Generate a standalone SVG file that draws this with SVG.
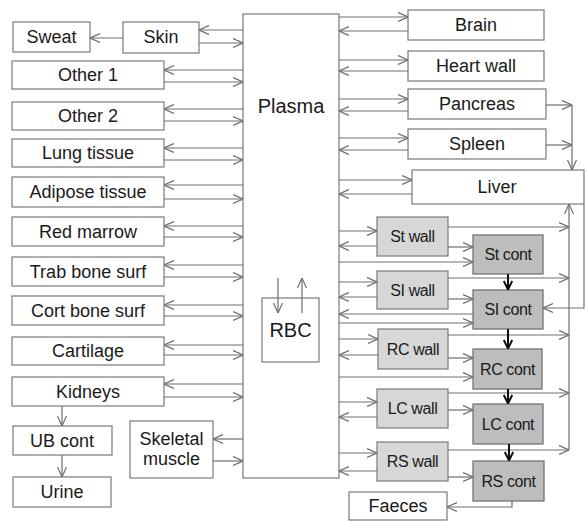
<svg xmlns="http://www.w3.org/2000/svg" width="587" height="522" viewBox="0 0 587 522">
<style>
.b{fill:#fff;stroke:#7a7a7a;stroke-width:1.2}
.w{fill:#d7d7d7;stroke:#7a7a7a;stroke-width:1.2}
.k{fill:#bdbdbd;stroke:#6a6a6a;stroke-width:1.2}
text{font-family:"Liberation Sans",Arial,sans-serif;font-size:18px;fill:#1a1a1a;text-anchor:middle}
.s{font-size:16px;letter-spacing:-0.4px}
.c path{fill:none;stroke:#6e6e6e;stroke-width:1.2}
.c .a{marker-end:url(#ah)}
.c .t{stroke:#111;stroke-width:2;marker-end:url(#ak)}
</style>
<defs>
<marker id="ah" viewBox="0 0 10 10" refX="10" refY="5" markerWidth="10" markerHeight="10" markerUnits="userSpaceOnUse" orient="auto"><path d="M0,0.5 L10,5 L0,9.5" fill="none" stroke="#6e6e6e" stroke-width="1.2"/></marker>
<marker id="ak" viewBox="0 0 10 10" refX="10" refY="5" markerWidth="10" markerHeight="10" markerUnits="userSpaceOnUse" orient="auto"><path d="M1,0.8 L9.5,5 L1,9.2" fill="none" stroke="#111" stroke-width="2"/></marker>
</defs>
<rect width="587" height="522" fill="#fff"/>

<g id="plasma"><rect class="b" x="243" y="14" width="96" height="464"/><text x="291" y="113" style="font-size:20px">Plasma</text></g>
<g id="rbc"><rect class="b" x="262" y="298" width="57" height="64"/><text x="290.5" y="337" style="font-size:20px">RBC</text></g>

<g id="sweat"><rect class="b" x="13" y="22" width="77" height="30"/><text x="51.5" y="43">Sweat</text></g>
<g id="skin"><rect class="b" x="123" y="22" width="76" height="31"/><text x="161" y="43">Skin</text></g>
<g id="other1"><rect class="b" x="12" y="61" width="152" height="28"/><text x="88" y="81">Other 1</text></g>
<g id="other2"><rect class="b" x="12" y="102" width="152" height="28"/><text x="88" y="122">Other 2</text></g>
<g id="lung"><rect class="b" x="12" y="139" width="152" height="28"/><text x="88" y="159">Lung tissue</text></g>
<g id="adipose"><rect class="b" x="12" y="177" width="152" height="30"/><text x="88" y="198">Adipose tissue</text></g>
<g id="redmarrow"><rect class="b" x="12" y="217" width="152" height="29"/><text x="88" y="238">Red marrow</text></g>
<g id="trab"><rect class="b" x="12" y="257" width="152" height="29"/><text x="88" y="278">Trab bone surf</text></g>
<g id="cort"><rect class="b" x="12" y="296" width="152" height="29"/><text x="88" y="317">Cort bone surf</text></g>
<g id="cartilage"><rect class="b" x="12" y="337" width="152" height="28"/><text x="88" y="357">Cartilage</text></g>
<g id="kidneys"><rect class="b" x="12" y="377" width="152" height="29"/><text x="88" y="398">Kidneys</text></g>
<g id="ubcont"><rect class="b" x="13" y="426" width="99" height="29"/><text x="62" y="447">UB cont</text></g>
<g id="urine"><rect class="b" x="13" y="477" width="98" height="30"/><text x="62" y="498">Urine</text></g>
<g id="skeletal"><rect class="b" x="130" y="421" width="83" height="57"/><text x="171.5" y="445">Skeletal</text><text x="171.5" y="465">muscle</text></g>

<g id="brain"><rect class="b" x="408" y="10" width="136" height="30"/><text x="476" y="31">Brain</text></g>
<g id="heart"><rect class="b" x="408" y="51" width="136" height="30"/><text x="476" y="72">Heart wall</text></g>
<g id="pancreas"><rect class="b" x="408" y="89" width="138" height="30"/><text x="477" y="110">Pancreas</text></g>
<g id="spleen"><rect class="b" x="408" y="129" width="138" height="30"/><text x="477" y="150">Spleen</text></g>
<g id="liver"><rect class="b" x="412" y="170" width="172" height="34"/><text x="497" y="193">Liver</text></g>

<g id="stwall"><rect class="w" x="377" y="217" width="71" height="39"/><text class="s" x="412.5" y="242">St wall</text></g>
<g id="siwall"><rect class="w" x="377" y="271" width="71" height="38"/><text class="s" x="412.5" y="296">SI wall</text></g>
<g id="rcwall"><rect class="w" x="378" y="329" width="70" height="40"/><text class="s" x="413" y="355">RC wall</text></g>
<g id="lcwall"><rect class="w" x="377" y="389" width="71" height="39"/><text class="s" x="412.5" y="414">LC wall</text></g>
<g id="rswall"><rect class="w" x="377" y="442" width="71" height="39"/><text class="s" x="412.5" y="467">RS wall</text></g>
<g id="stcont"><rect class="k" x="473" y="235" width="70" height="39"/><text class="s" x="508" y="260">St cont</text></g>
<g id="sicont"><rect class="k" x="473" y="290" width="70" height="39"/><text class="s" x="508" y="315">SI cont</text></g>
<g id="rccont"><rect class="k" x="473" y="349" width="69" height="40"/><text class="s" x="507.5" y="375">RC cont</text></g>
<g id="lccont"><rect class="k" x="473" y="404" width="70" height="40"/><text class="s" x="508" y="430">LC cont</text></g>
<g id="rscont"><rect class="k" x="473" y="461" width="71" height="40"/><text class="s" x="508.5" y="487">RS cont</text></g>
<g id="faeces"><rect class="b" x="349" y="492" width="98" height="28"/><text x="398" y="512">Faeces</text></g>

<g id="connectors" class="c">
<path class="a" d="M123,38H90"/>
<path class="a" d="M243,30H199"/><path class="a" d="M199,43H243"/>
<path class="a" d="M243,70H164"/><path class="a" d="M164,82H243"/>
<path class="a" d="M243,109H164"/><path class="a" d="M164,121H243"/>
<path class="a" d="M243,148H164"/><path class="a" d="M164,160H243"/>
<path class="a" d="M243,185H164"/><path class="a" d="M164,199H243"/>
<path class="a" d="M243,226H164"/><path class="a" d="M164,237H243"/>
<path class="a" d="M243,265H164"/><path class="a" d="M164,277H243"/>
<path class="a" d="M243,305H164"/><path class="a" d="M164,316H243"/>
<path class="a" d="M243,345H164"/><path class="a" d="M164,355H243"/>
<path class="a" d="M243,384H164"/><path class="a" d="M164,397H243"/>
<path class="a" d="M62,406V426"/><path class="a" d="M62,455V477"/>
<path class="a" d="M243,439H213"/><path class="a" d="M213,461H243"/>
<path class="a" d="M278,278V313"/><path class="a" d="M302,313V278"/>

<path class="a" d="M339,17H408"/><path class="a" d="M408,31H339"/>
<path class="a" d="M339,60H408"/><path class="a" d="M408,71H339"/>
<path class="a" d="M339,99H408"/><path class="a" d="M408,111H339"/>
<path class="a" d="M339,138H408"/><path class="a" d="M408,150H339"/>
<path class="a" d="M339,180H412"/><path class="a" d="M412,194H339"/>
<path class="a" d="M546,105H572"/><path class="a" d="M546,145H572"/>
<path class="a" d="M572,105V170"/>

<path class="a" d="M339,231H377"/><path class="a" d="M377,246H339"/>
<path class="a" d="M448,247H473"/><path class="a" d="M339,262H473"/>
<path class="a" d="M448,227H569"/>
<path class="a" d="M339,282H377"/><path class="a" d="M377,297H339"/>
<path class="a" d="M448,299H473"/><path class="a" d="M448,278H569"/>
<path class="a" d="M473,314H339"/><path class="a" d="M339,323H473"/>
<path class="a" d="M339,339H378"/><path class="a" d="M378,355H339"/>
<path class="a" d="M448,358H473"/><path class="a" d="M448,335H569"/>
<path class="a" d="M339,377H473"/>
<path class="a" d="M339,402H377"/><path class="a" d="M377,417H339"/>
<path class="a" d="M448,410H473"/><path class="a" d="M448,393H569"/>
<path class="a" d="M339,453H377"/><path class="a" d="M377,471H339"/>
<path class="a" d="M448,477H473"/><path class="a" d="M448,450H569"/>
<path class="a" d="M569,450V204"/>
<path class="a" d="M584,204V308H543"/>
<path class="a" d="M512,501V507H447"/>

<path class="t" d="M508,274V290"/>
<path class="t" d="M508,329V349"/>
<path class="t" d="M508,389V404"/>
<path class="t" d="M509,444V461"/>
</g>
</svg>
